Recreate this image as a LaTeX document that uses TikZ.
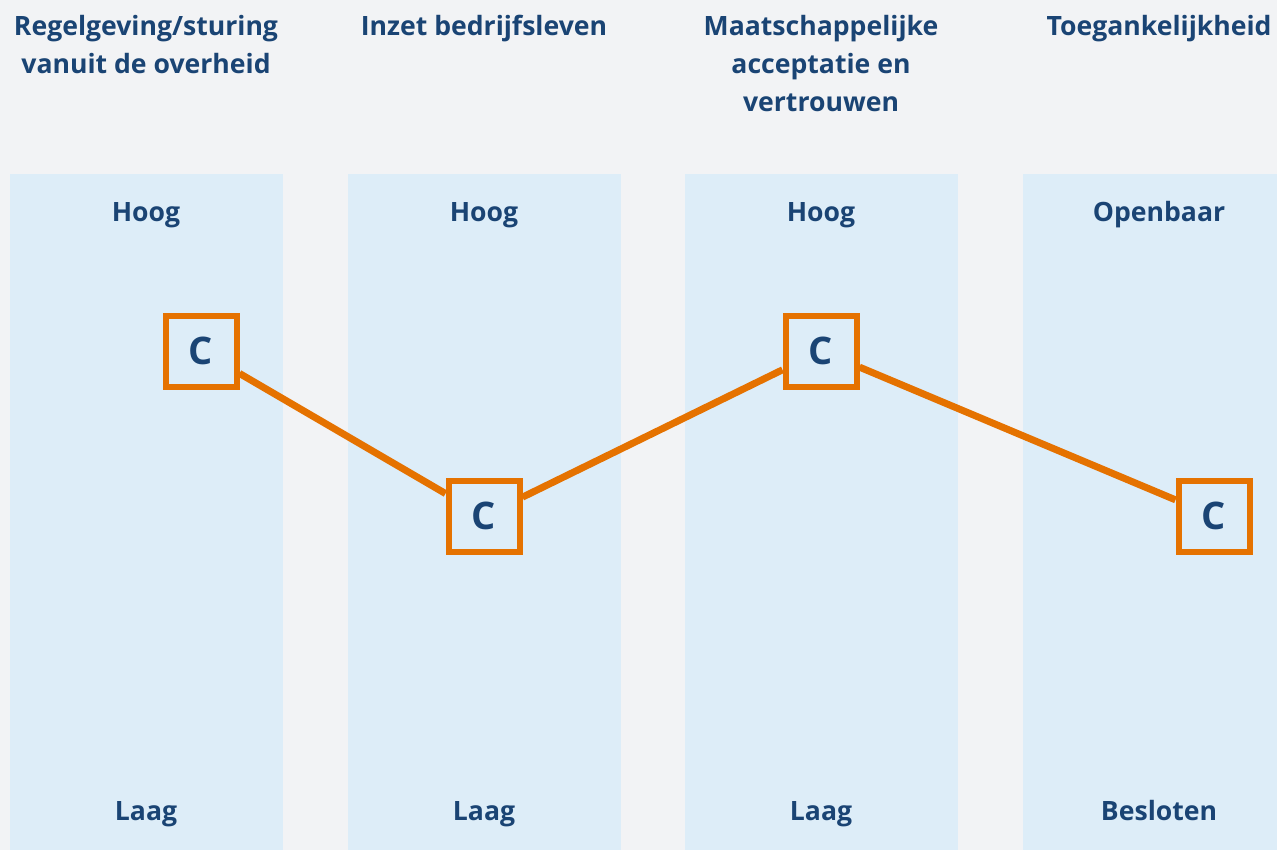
\documentclass[tikz,border=0pt]{standalone}
\usepackage{fontspec}
\setmainfont{Open Sans}
\definecolor{bgcol}{HTML}{F2F3F5}
\definecolor{colfill}{HTML}{DDEDF8}
\definecolor{textblue}{HTML}{1A4474}
\definecolor{lineorange}{HTML}{E57200}
\begin{document}
\begin{tikzpicture}[x=0.5pt,y=-0.5pt,head_node/.style={text=textblue,font=\bfseries\fontsize{13.3}{19}\selectfont,align=center,inner sep=0pt},level_node/.style={text=textblue,font=\bfseries\fontsize{13.3}{15}\selectfont,inner sep=0pt,anchor=base},c_node/.style={draw=lineorange,line width=3pt,fill=colfill,text=textblue,font=\bfseries\fontsize{19}{20}\selectfont,minimum size=35.5pt,inner sep=0pt}]
		
		\fill[bgcol] (0,0) rectangle (1277,850);
		\useasboundingbox (0,0) rectangle (1277,850);
		
		\fill[colfill] (10,174) rectangle (283,850);
		\fill[colfill] (348,174) rectangle (621,850);
		\fill[colfill] (685,174) rectangle (958,850);
		\fill[colfill] (1023,174) rectangle (1277,850);
		
		\node[head_node,anchor=north] (h1) at (146,15) {Regelgeving/sturing\\vanuit de overheid};
		\node[head_node,anchor=north] (h2) at (484,15) {Inzet bedrijfsleven};
		\node[head_node,anchor=north] (h3) at (821,15) {Maatschappelijke\\acceptatie en\\vertrouwen};
		\node[head_node,anchor=north] (h4) at (1159,15) {Toegankelijkheid};
		
		\node[level_node] (top1) at (146,221) {Hoog};
		\node[level_node] (top2) at (484,221) {Hoog};
		\node[level_node] (top3) at (821,221) {Hoog};
		\node[level_node] (top4) at (1159,221) {Openbaar};
		
		\node[level_node] (bot1) at (146,820) {Laag};
		\node[level_node] (bot2) at (484,820) {Laag};
		\node[level_node] (bot3) at (821,820) {Laag};
		\node[level_node] (bot4) at (1159,820) {Besloten};
		
		\node[c_node] (c1) at (201,351) {C};
		\node[c_node] (c2) at (484,516) {C};
		\node[c_node] (c3) at (821,351) {C};
		\node[c_node] (c4) at (1214,516) {C};
		
		\draw[lineorange,line width=3.5pt] (c1) -- (c2);
		\draw[lineorange,line width=3.5pt] (c2) -- (c3);
		\draw[lineorange,line width=3.5pt] (c3) -- (c4);
		\end{tikzpicture}
\end{document}
